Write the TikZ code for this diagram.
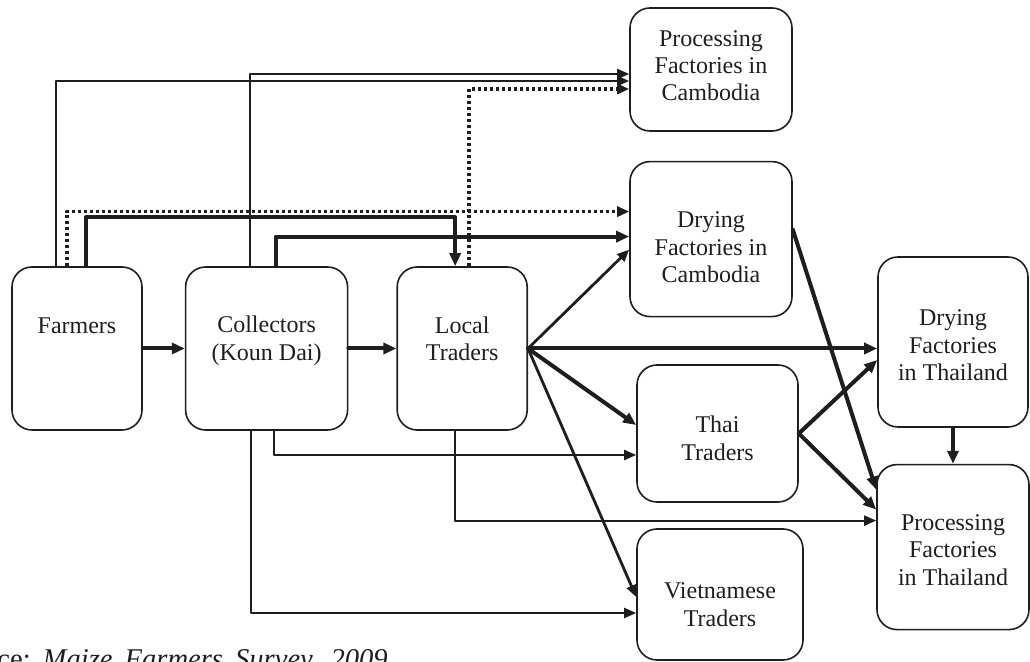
\documentclass[tikz,border=0pt]{standalone}
\usepackage{fontspec}
\setmainfont{Liberation Serif}
\usetikzlibrary{arrows.meta,positioning}
\definecolor{ink}{HTML}{1E1E1E}
\tikzset{
    every picture/.style={line cap=round,line join=round},
    chainbox/.style={draw=ink,rounded corners=10pt,line width=0.8pt,
      inner sep=2pt,align=center,text=ink,font=\fontsize{12}{13.7}\selectfont},
    thinflow/.style={-{Triangle[length=6pt,width=5pt]},draw=ink,line width=1pt},
    midflow/.style={-{Triangle[length=6pt,width=5pt]},draw=ink,line width=1.4pt},
    thickflow/.style={-{Triangle[length=6.5pt,width=5.5pt]},draw=ink,line width=2pt},
    dotflow/.style={-{Triangle[length=6pt,width=5pt]},draw=ink,line width=1.8pt,
      line cap=butt,dash pattern=on 1.5pt off 1.5pt}
}
\begin{document}
\begin{tikzpicture}[x=0.5pt,y=0.5pt]
  \useasboundingbox (0,0) rectangle (1030,-662);
  % supply chain in Laos
  \node[chainbox,minimum width=65pt,minimum height=81.5pt,text depth=23pt] (farm) at (77,-348.5) {Farmers};
  \node[chainbox,minimum width=81pt,minimum height=81.5pt,text depth=10.4pt,right=21pt of farm] (coll) {Collectors\\(Koun Dai)};
  \node[chainbox,minimum width=65pt,minimum height=81.5pt,text depth=10pt,right=24pt of coll] (local) {Local\\Traders};
  % buyers
  \node[chainbox,minimum width=81pt,minimum height=61.5pt,text depth=4pt] (pcam) at (711,-69.5) {Processing\\Factories in\\Cambodia};
  \node[chainbox,minimum width=81pt,minimum height=77.5pt,text height=43.6pt,below=14.5pt of pcam] (dcam) {Drying\\Factories in\\Cambodia};
  \node[chainbox,minimum width=80.5pt,minimum height=68.5pt,text height=26.9pt] (thai) at (717.5,-433.5) {Thai\\Traders};
  \node[chainbox,minimum width=83pt,minimum height=65.5pt,text height=31.9pt] (viet) at (720,-594.5) {Vietnamese\\Traders};
  \node[chainbox,minimum width=75pt,minimum height=85pt,text height=38.6pt] (dthai) at (953,-342) {Drying\\Factories\\in Thailand};
  \node[chainbox,minimum width=76pt,minimum height=82.5pt,text height=38.1pt,below=18pt of dthai] (pthai) {Processing\\Factories\\in Thailand};
  \node[anchor=base west,inner sep=0pt,text=ink,font=\fontsize{14.3}{16}\selectfont] (src) at (-3,-669)
    {ce:\hspace{6pt}\textit{Maize\hspace{6pt}Farmers\hspace{6pt}Survey,\hspace{6pt}2009}};
  % main chain
  \draw[thickflow] (farm) -- (coll);
  \draw[thickflow] (coll) -- (local);
  % routes over the top
  \draw[thinflow] ([xshift=-8.5pt]coll.north) |- ([yshift=-2.25pt]pcam.west);
  \draw[thinflow] ([xshift=-10.5pt]farm.north) |- ([yshift=-5.75pt]pcam.west);
  \draw[dotflow] ([xshift=3.5pt]local.north) |- ([yshift=-9.75pt]pcam.west);
  \draw[dotflow] ([xshift=-5pt]farm.north) |- ([yshift=13.75pt]dcam.west);
  \draw[thickflow] ([xshift=4.5pt]farm.north) -- ++(0,49) -| ([xshift=-3.5pt]local.north);
  \draw[thickflow] ([xshift=4.5pt]coll.north) |- ([yshift=1.25pt]dcam.west);
  % out of the local traders
  \draw[midflow] (local.east) -- ([yshift=-5.25pt]dcam.west);
  \draw[thickflow] (local.east) -- (local.east -| dthai.west);
  \draw[thickflow] (local.east) -- ([yshift=4.25pt]thai.west);
  \draw[midflow] (local.east) -- ([yshift=-1.25pt]viet.west);
  % routes underneath
  \draw[thinflow] ([xshift=-3.5pt]local.south) |- ([yshift=13.25pt]pthai.west);
  \draw[thinflow] ([xshift=3.5pt]coll.south) |- ([yshift=-10.75pt]thai.west);
  \draw[thinflow] ([xshift=-8pt]coll.south) |- ([yshift=-9.25pt]viet.west);
  % into Thailand
  \draw[thickflow] ([yshift=4.75pt]dcam.east) -- ([yshift=28.75pt]pthai.west);
  \draw[thickflow] (thai.east) -- ([yshift=-9pt]dthai.west);
  \draw[thickflow] (thai.east) -- ([yshift=18.75pt]pthai.west);
  \draw[thickflow] (dthai) -- (pthai);
\end{tikzpicture}
\end{document}
